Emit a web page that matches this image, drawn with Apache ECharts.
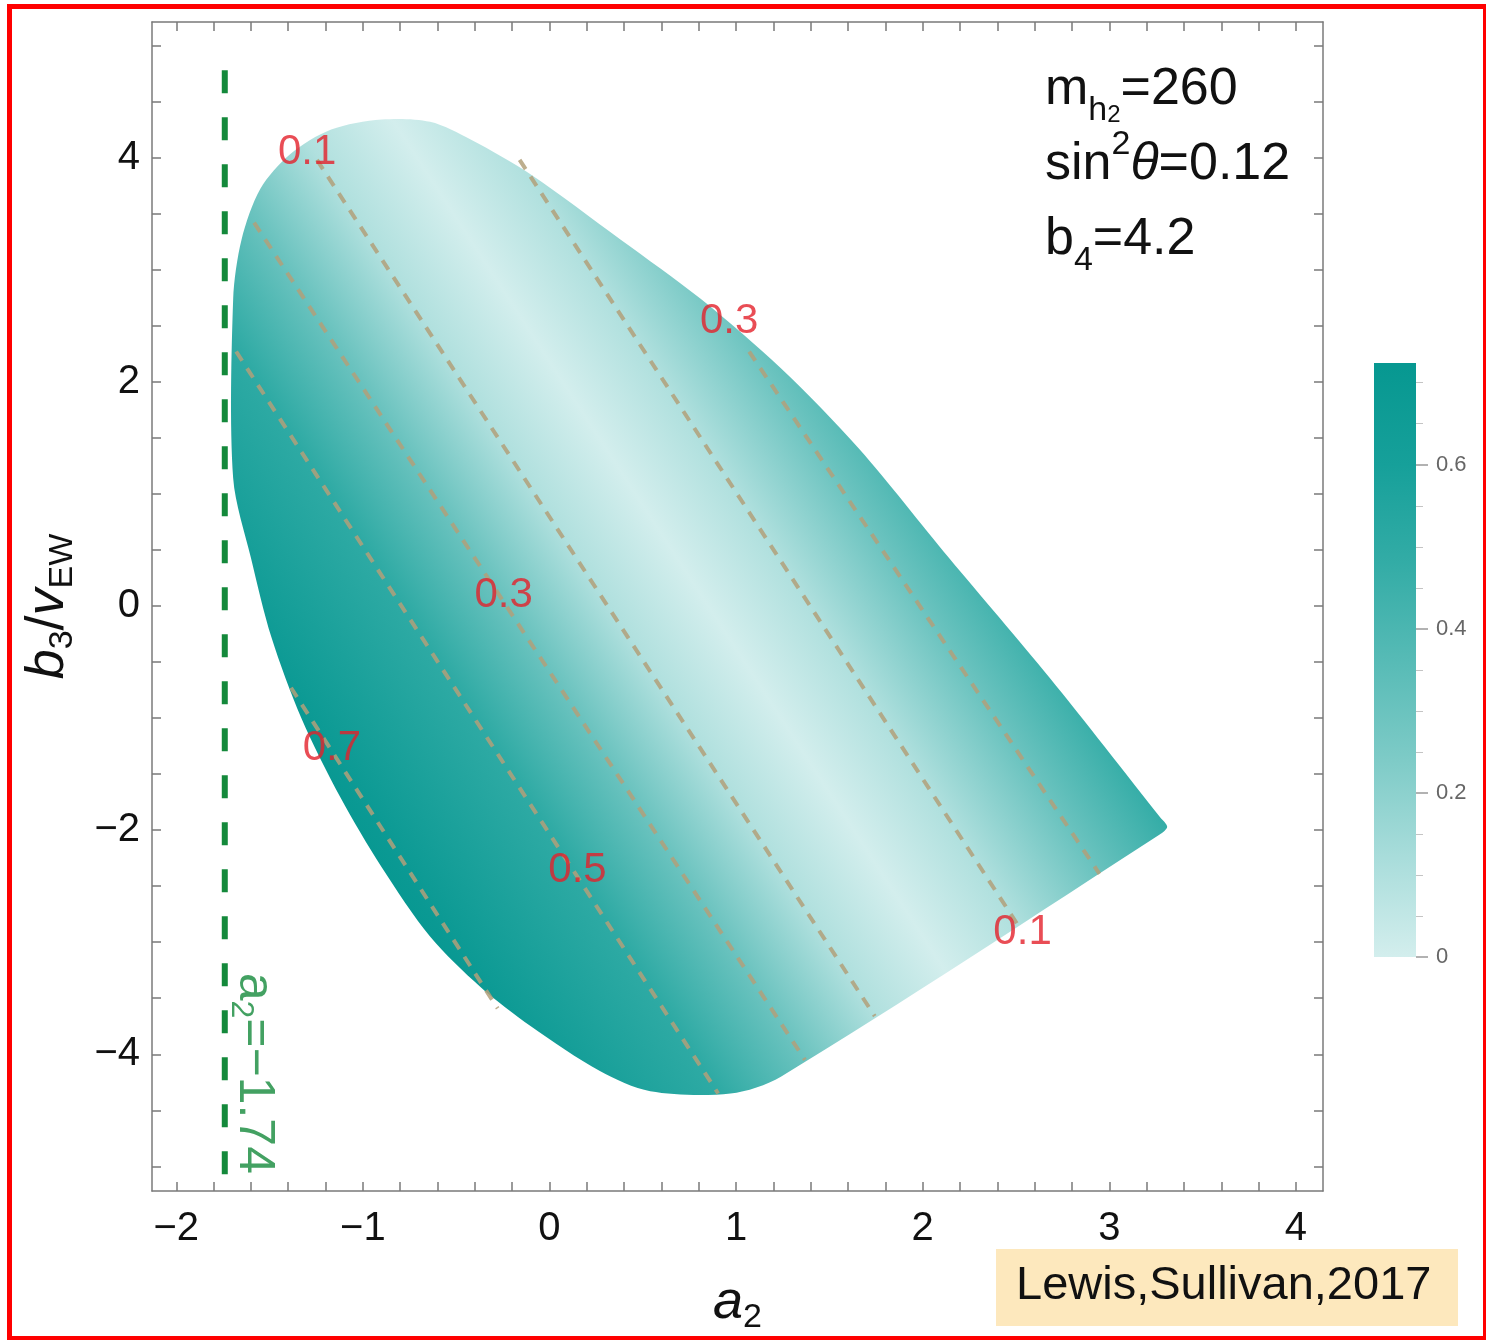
<!DOCTYPE html>
<html style="height:100%">
<head>
    <meta charset="utf-8">
    <script type="text/javascript" src="https://cdn.jsdelivr.net/npm/echarts@6/dist/echarts.min.js"></script>
    <title>a2 - b3 plane</title>
</head>
<body style="height:100%; margin:0; background:#fff">
<div id="container" style="width:1486px; height:1340px"></div>
<script type="text/javascript">
// axis ticks and labels
const xTickValues = [-2, -1.8, -1.6, -1.4, -1.2, -1, -0.8, -0.6, -0.4, -0.2, 0, 0.2, 0.4, 0.6, 0.8, 1,
    1.2, 1.4, 1.6, 1.8, 2, 2.2, 2.4, 2.6, 2.8, 3, 3.2, 3.4, 3.6, 3.8, 4];
const xLabelValues = [-2, -1, 0, 1, 2, 3, 4];
const yTickValues = [-5, -4.5, -4, -3.5, -3, -2.5, -2, -1.5, -1, -0.5, 0, 0.5, 1, 1.5, 2, 2.5, 3, 3.5, 4, 4.5, 5];
const yLabelValues = [-4, -2, 0, 2, 4];

// outline of the allowed region (a2, b3/vEW)
const regionBoundary = [
    [-1.695, 2.74], [-1.695, 1.14], [-1.60, 0.43], [-1.49, -0.28], [-1.33, -1.00], [-1.12, -1.71],
    [-0.90, -2.33], [-0.64, -2.95], [-0.37, -3.40], [-0.10, -3.75], [0.27, -4.15], [0.54, -4.33],
    [0.97, -4.35], [1.24, -4.20], [3.27, -2.04], [3.31, -1.97], [3.27, -1.88], [2.68, -0.64],
    [2.14, 0.43], [1.66, 1.40], [1.24, 2.12], [0.81, 2.74], [0.38, 3.27], [-0.10, 3.85],
    [-0.42, 4.16], [-0.64, 4.32], [-0.90, 4.34], [-1.17, 4.25], [-1.39, 4.03], [-1.55, 3.72],
    [-1.65, 3.27]
];

// the shading only varies across the diagonal bands: u = a2 + bandSlope * b3
const bandSlope = 0.39;
const bandU = [-1.85, -1.72, -0.78, -0.21, 0.32, 0.85, 1.39, 2.0, 2.6];
const bandValue = [0.72, 0.70, 0.50, 0.30, 0.10, 0.0, 0.10, 0.30, 0.50];

// dashed contour lines (a2, b3)
const contour07 = [[-1.385, -0.73], [-0.278, -3.59]];
const contour05 = [[-1.679, 2.27], [0.904, -4.35]];
const contour03L = [[-1.583, 3.42], [1.369, -4.05]];
const contour01L = [[-1.246, 3.98], [1.743, -3.66]];
const contour01R = [[-0.160, 3.98], [2.519, -2.87]];
const contour03R = [[1.07, 2.27], [2.947, -2.39]];
const contourLabels = [
    { name: '0.1', value: [-1.299, 4.05] },
    { name: '0.3', value: [0.963, 2.54] },
    { name: '0.3', value: [-0.246, 0.09] },
    { name: '0.7', value: [-1.166, -1.27] },
    { name: '0.5', value: [0.150, -2.36] },
    { name: '0.1', value: [2.535, -2.91] }
];

// a2 = -1.74 bound
const cutLine = [[-1.74, 4.78], [-1.74, -5.08]];
const cutLabel = [{ name: 'a2=-1.74', value: [-1.585, -4.17] }];

// colour scale 0 .. 0.72 and colour bar ticks
const colorScale = ['#d3eeed', '#a9dddb', '#7ecbc7', '#57bbb6', '#33aca6', '#16a09a', '#079891'];
const colorMax = 0.72;
const barMax = 0.724;
const barLabelValues = [0, 0.2, 0.4, 0.6];
const barMinorValues = [0.05, 0.1, 0.15, 0.25, 0.3, 0.35, 0.45, 0.5, 0.55, 0.65, 0.7];

var myChart = echarts.init(document.getElementById('container'));

const font = "'Liberation Sans', Arial, sans-serif";
const axisGray = '#7a7a7a';

function fmt(v) {
    return v < 0 ? '\u2212' + (-v) : String(v);
}

// colour stops along the band direction
const uMin = bandU[0], uMax = bandU[bandU.length - 1];
const regionStops = bandU.map(function (u, i) {
    return {
        offset: (u - uMin) / (uMax - uMin),
        color: echarts.color.lerp(bandValue[i] / colorMax, colorScale)
    };
});

function renderRegion(params, api) {
    var pts = regionBoundary.map(function (p) { return api.coord(p); });
    var o = api.coord([0, 0]);
    var ax = api.coord([1, 0]);
    var by = api.coord([0, 1]);
    var sx = ax[0] - o[0];
    var sy = o[1] - by[1];
    var g = [1 / sx, -bandSlope / sy];
    var g2 = g[0] * g[0] + g[1] * g[1];
    var p1 = api.coord([uMin, 0]);
    var lam = (uMax - uMin) / g2;
    return {
        type: 'polygon',
        shape: { points: pts, smooth: 0.3 },
        style: {
            fill: {
                type: 'linear', global: true,
                x: p1[0], y: p1[1], x2: p1[0] + lam * g[0], y2: p1[1] + lam * g[1],
                colorStops: regionStops
            }
        }
    };
}

function renderBar(params, api) {
    var a = api.coord([0, 0]);
    var b = api.coord([1, barMax]);
    var stops = colorScale.map(function (c, i) {
        return { offset: i / (colorScale.length - 1) * colorMax / barMax, color: c };
    });
    return {
        type: 'rect',
        shape: { x: a[0], y: b[1], width: b[0] - a[0], height: a[1] - b[1] },
        style: { fill: new echarts.graphic.LinearGradient(0, 1, 0, 0, stops) }
    };
}

function contourSeries(pts) {
    return {
        type: 'line', data: pts, showSymbol: false, silent: true, z: 3,
        lineStyle: { color: 'rgba(178,160,122,0.85)', width: 4, type: [11, 9] }
    };
}

var frameTick = { show: true, inside: true, length: 9, lineStyle: { color: axisGray, width: 1.5 } };
var frameLine = { show: true, onZero: false, lineStyle: { color: axisGray, width: 1.5 } };

var option = {
    backgroundColor: '#fff',
    animation: false,
    textStyle: { fontFamily: font },
    grid: [
        { left: 152, top: 22, width: 1171, height: 1172 },
        { left: 1374, top: 363, width: 42, height: 594 }
    ],
    xAxis: [
        {
            type: 'value', gridIndex: 0, min: -2.13, max: 4.145, position: 'bottom',
            axisLine: frameLine,
            axisTick: Object.assign({ customValues: xTickValues }, frameTick),
            axisLabel: { customValues: xLabelValues, formatter: fmt, margin: 18, fontSize: 40, color: '#111', fontFamily: font },
            splitLine: { show: false },
            name: '{i|a}{s|2}', nameLocation: 'middle', nameGap: 80,
            nameTextStyle: {
                rich: {
                    i: { fontSize: 54, fontStyle: 'italic', color: '#111', fontFamily: font, lineHeight: 64 },
                    s: { fontSize: 34, color: '#111', fontFamily: font, verticalAlign: 'bottom', lineHeight: 40 }
                }
            }
        },
        {
            type: 'value', gridIndex: 0, min: -2.13, max: 4.145, position: 'top',
            axisLine: frameLine,
            axisTick: Object.assign({ customValues: xTickValues }, frameTick),
            axisLabel: { show: false },
            splitLine: { show: false }
        },
        { type: 'value', gridIndex: 1, min: 0, max: 1, show: false }
    ],
    yAxis: [
        {
            type: 'value', gridIndex: 0, min: -5.22, max: 5.21, position: 'left',
            axisLine: frameLine,
            axisTick: Object.assign({ customValues: yTickValues }, frameTick),
            axisLabel: { customValues: yLabelValues, formatter: fmt, margin: 12, fontSize: 40, color: '#111', fontFamily: font },
            splitLine: { show: false },
            name: '{i|b}{s|3}{n|/}{i|v}{s|EW}', nameLocation: 'middle', nameGap: 72,
            nameTextStyle: {
                rich: {
                    i: { fontSize: 54, fontStyle: 'italic', color: '#111', fontFamily: font, lineHeight: 64 },
                    n: { fontSize: 54, color: '#111', fontFamily: font, lineHeight: 64 },
                    s: { fontSize: 34, color: '#111', fontFamily: font, verticalAlign: 'bottom', lineHeight: 40 }
                }
            }
        },
        {
            type: 'value', gridIndex: 0, min: -5.22, max: 5.21, position: 'right',
            axisLine: frameLine,
            axisTick: Object.assign({ customValues: yTickValues }, frameTick),
            axisLabel: { show: false },
            splitLine: { show: false }
        },
        {
            type: 'value', gridIndex: 1, min: 0, max: barMax, position: 'right',
            axisLine: { show: false, onZero: false },
            axisTick: { show: true, length: 12, customValues: barLabelValues, lineStyle: { color: '#999', width: 1.5 } },
            axisLabel: { customValues: barLabelValues, margin: 20, fontSize: 22, color: '#666', fontFamily: font },
            splitLine: { show: false }
        },
        {
            type: 'value', gridIndex: 1, min: 0, max: barMax, position: 'right',
            axisLine: { show: false, onZero: false },
            axisTick: { show: true, length: 7, customValues: barMinorValues, lineStyle: { color: '#c4c4c4', width: 1 } },
            axisLabel: { show: false },
            splitLine: { show: false }
        }
    ],
    series: [
        {
            type: 'custom', xAxisIndex: 0, yAxisIndex: 0, renderItem: renderRegion,
            data: [[0, 0]], silent: true, z: 1
        },
        contourSeries(contour07),
        contourSeries(contour05),
        contourSeries(contour03L),
        contourSeries(contour01L),
        contourSeries(contour01R),
        contourSeries(contour03R),
        {
            type: 'scatter', data: contourLabels, symbolSize: 1, silent: true, z: 5,
            itemStyle: { color: 'rgba(0,0,0,0)' },
            label: { show: true, position: 'inside', formatter: '{b}', fontSize: 42, color: '#e3202a', fontFamily: font }
        },
        {
            type: 'line', data: cutLine, showSymbol: false, silent: true, z: 4,
            lineStyle: { color: '#14893b', width: 6, type: [23, 24] }
        },
        {
            type: 'scatter', data: cutLabel, symbolSize: 1, silent: true, z: 5,
            itemStyle: { color: 'rgba(0,0,0,0)' },
            label: {
                show: true, position: 'inside', rotate: -90,
                formatter: '{t|a}{s|2}{t|=\u22121.74}',
                rich: {
                    t: { fontSize: 50, color: '#14893b', fontFamily: font, lineHeight: 58 },
                    s: { fontSize: 32, color: '#14893b', fontFamily: font, verticalAlign: 'bottom', lineHeight: 46 }
                }
            }
        },
        {
            type: 'custom', xAxisIndex: 2, yAxisIndex: 2, renderItem: renderBar,
            data: [[0, 0]], silent: true
        }
    ],
    graphic: [
        {
            type: 'text', left: 1045, top: 64, silent: true,
            style: {
                text: '{m|m}{sub|h}{sub2|2}{m|=260}\n{m|sin}{sup|2}{it|\u03b8}{m|=0.12}\n{m|b}{sub|4}{m|=4.2}',
                rich: {
                    m: { fontSize: 52, fill: '#111', fontFamily: font, lineHeight: 75 },
                    it: { fontSize: 52, fill: '#111', fontFamily: font, fontStyle: 'italic', lineHeight: 75 },
                    sub: { fontSize: 34, fill: '#111', fontFamily: font, verticalAlign: 'bottom', lineHeight: 68 },
                    sub2: { fontSize: 24, fill: '#111', fontFamily: font, verticalAlign: 'bottom', lineHeight: 44 },
                    sup: { fontSize: 34, fill: '#111', fontFamily: font, verticalAlign: 'top', lineHeight: 62 }
                }
            }
        },
        {
            type: 'rect', left: 996, top: 1249, silent: true,
            shape: { width: 462, height: 77 },
            style: { fill: '#fde8bd' }
        },
        {
            type: 'text', left: 1016, top: 1263, silent: true,
            style: { text: 'Lewis,Sullivan,2017', fontSize: 47, fill: '#111', fontFamily: font }
        },
        {
            type: 'rect', left: 7, top: 4, silent: true, z: 100,
            shape: { width: 1476, height: 1332 },
            style: { fill: 'none', stroke: '#ff0000', lineWidth: 5 }
        }
    ]
};

myChart.setOption(option);
</script>
</body>
</html>
